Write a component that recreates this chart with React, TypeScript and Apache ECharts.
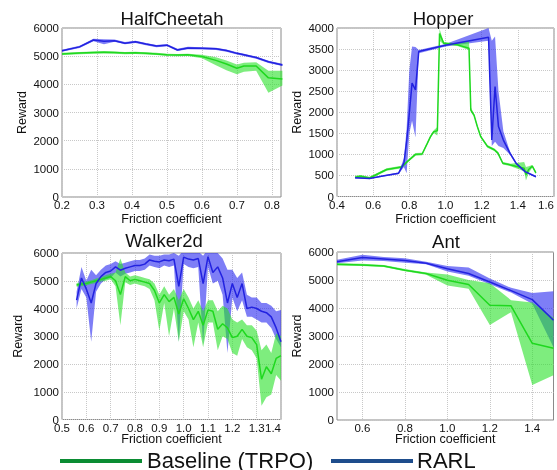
import React, { useEffect, useRef } from 'react';
import * as echarts from 'echarts';

// ---------- HalfCheetah ----------
const hcX = [0.2, 0.25, 0.29, 0.32, 0.35, 0.38, 0.41, 0.44, 0.47, 0.5, 0.53, 0.56, 0.6, 0.64, 0.67, 0.7, 0.72, 0.755, 0.79, 0.83];
const hcRarl = [5195, 5330, 5573, 5530, 5550, 5460, 5510, 5430, 5360, 5390, 5220, 5290, 5280, 5260, 5200, 5100, 5050, 4950, 4800, 4690];
const hcRarlLo = [5160, 5290, 5530, 5420, 5510, 5420, 5470, 5390, 5320, 5350, 5180, 5250, 5240, 5220, 5160, 5060, 5010, 4910, 4760, 4650];
const hcRarlHi = [5230, 5370, 5620, 5600, 5590, 5500, 5550, 5470, 5400, 5430, 5260, 5330, 5320, 5300, 5240, 5140, 5090, 4990, 4840, 4730];
const hcBase = [5080, 5110, 5130, 5140, 5130, 5110, 5120, 5100, 5080, 5050, 5040, 5050, 4990, 4850, 4720, 4570, 4650, 4650, 4230, 4190];
const hcBaseLo = [5040, 5070, 5090, 5100, 5090, 5070, 5080, 5060, 5040, 5010, 5000, 5010, 4930, 4680, 4500, 4360, 4450, 4480, 3700, 3960];
const hcBaseHi = [5120, 5150, 5170, 5180, 5170, 5150, 5160, 5140, 5120, 5090, 5080, 5090, 5050, 4960, 4850, 4700, 4770, 4780, 4480, 4480];
const hcTicks = [0.2, 0.3, 0.4, 0.5, 0.6, 0.7, 0.8];

// ---------- Hopper ----------
const hpRarlX = [0.5, 0.58, 0.66, 0.74, 0.77, 0.785, 0.8, 0.815, 0.834, 0.852, 1.0, 1.238, 1.256, 1.274, 1.293, 1.32, 1.357, 1.39, 1.44, 1.5];
const hpRarl = [446, 430, 490, 550, 790, 1300, 1980, 2690, 2530, 3440, 3590, 3780, 1340, 2610, 1660, 1340, 1025, 790, 590, 470];
const hpRarlLo = [430, 415, 475, 530, 700, 550, 1500, 1800, 1400, 3400, 3560, 3700, 1200, 1300, 1200, 1150, 990, 760, 570, 450];
const hpRarlHi = [460, 445, 505, 570, 900, 1600, 3000, 3560, 3550, 3480, 3620, 4000, 3700, 3800, 2500, 1550, 1060, 820, 610, 490];
const hpBaseX = [0.5, 0.53, 0.58, 0.675, 0.757, 0.794, 0.834, 0.871, 0.898, 0.917, 0.935, 0.955, 0.967, 0.99, 1.066, 1.13, 1.14, 1.158, 1.176, 1.195, 1.232, 1.27, 1.29, 1.317, 1.36, 1.435, 1.445, 1.46, 1.48, 1.5];
const hpBase = [460, 480, 440, 640, 700, 850, 1000, 1010, 1250, 1420, 1540, 1560, 3870, 3640, 3600, 3520, 2050, 1930, 1660, 1420, 1190, 1110, 1030, 790, 750, 670, 520, 640, 720, 560];
const hpBaseLo = [430, 450, 410, 610, 670, 820, 970, 980, 1220, 1390, 1510, 1450, 3700, 3610, 3570, 3480, 2000, 1900, 1630, 1390, 1160, 1080, 1000, 760, 720, 600, 380, 560, 690, 530];
const hpBaseHi = [490, 510, 470, 670, 730, 880, 1030, 1040, 1280, 1450, 1570, 1650, 3980, 3670, 3630, 3700, 2120, 1960, 1690, 1450, 1220, 1140, 1060, 820, 780, 820, 700, 720, 750, 590];
const hpTicks = [0.4, 0.6, 0.8, 1.0, 1.2, 1.4, 1.6];

// ---------- Walker2d ----------
const wkX = [0.56, 0.58, 0.6, 0.62, 0.64, 0.66, 0.68, 0.7, 0.72, 0.74, 0.76, 0.78, 0.8, 0.82, 0.84, 0.86, 0.88, 0.9, 0.92, 0.94, 0.96, 0.98, 1.0, 1.02, 1.04, 1.06, 1.08, 1.1, 1.12, 1.14, 1.16, 1.18, 1.2, 1.22, 1.24, 1.26, 1.28, 1.3, 1.32, 1.34, 1.36, 1.38, 1.4];
const wkRarl = [4300, 5100, 4700, 4200, 4900, 5150, 5300, 5350, 5500, 5380, 5450, 5500, 5550, 5550, 5600, 5750, 5700, 5680, 5750, 5720, 5780, 4800, 5850, 5780, 5750, 5800, 4900, 5870, 5300, 5500, 5100, 4200, 4900, 4400, 4900, 4000, 4050, 4000, 3900, 3850, 3700, 3300, 2800];
const wkRarlLo = [4000, 4700, 4400, 2800, 4600, 4900, 5050, 5100, 5300, 5150, 5250, 5300, 5350, 5350, 5400, 5550, 5500, 5450, 5550, 5500, 5550, 2800, 5600, 5500, 5450, 5500, 2700, 5500, 4900, 5000, 4500, 2400, 4400, 3900, 4300, 3700, 3700, 3600, 3500, 3500, 3300, 2900, 2600];
const wkRarlHi = [4600, 5500, 5000, 5400, 5200, 5400, 5550, 5600, 5700, 5600, 5650, 5700, 5750, 5750, 5800, 5950, 5900, 5900, 5950, 5950, 6000, 5900, 6100, 6050, 6000, 6050, 5900, 6150, 6000, 6000, 5800, 5400, 5400, 5100, 5300, 4500, 4400, 4400, 4200, 4200, 4100, 3900, 3950];
const wkBase = [4850, 4880, 4900, 4950, 5000, 5050, 5100, 5150, 5000, 4500, 5150, 5000, 5050, 5000, 4950, 4900, 4650, 4200, 4500, 4250, 4400, 3800, 4350, 4000, 3600, 3900, 3400, 3950, 3900, 3250, 3450, 3300, 2950, 3000, 3250, 3000, 2950, 2700, 1450, 1900, 1650, 2200, 2300];
const wkBaseLo = [4780, 4800, 4830, 4880, 4920, 4970, 5000, 5050, 4800, 3400, 4950, 4850, 4900, 4850, 4800, 4700, 4300, 3200, 4200, 3000, 4000, 2800, 3900, 3600, 2600, 3500, 2600, 3500, 3500, 2500, 3000, 2900, 2400, 2300, 2900, 2600, 2500, 2200, 500, 800, 900, 1600, 1400];
const wkBaseHi = [4920, 4950, 4970, 5020, 5080, 5130, 5200, 5250, 5300, 5800, 5300, 5150, 5200, 5150, 5100, 5050, 4900, 4500, 4800, 4500, 4700, 4300, 4700, 4400, 4000, 4300, 3900, 4300, 4300, 3900, 4100, 4000, 3600, 3500, 3600, 3400, 3400, 3200, 2500, 2700, 2400, 3100, 3000];
const wkTicks = [0.5, 0.6, 0.7, 0.8, 0.9, 1.0, 1.1, 1.2, 1.3, 1.4];

// ---------- Ant ----------
const antX = [0.48, 0.6, 0.7, 0.8, 0.9, 1.0, 1.1, 1.2, 1.3, 1.4, 1.5];
const antRarl = [5650, 5800, 5750, 5700, 5600, 5400, 5230, 4930, 4620, 4300, 3560];
const antRarlLo = [5600, 5700, 5680, 5620, 5560, 5300, 5150, 4850, 4550, 4150, 2600];
const antRarlHi = [5720, 5900, 5820, 5780, 5650, 5500, 5450, 5050, 4720, 4540, 4600];
const antBase = [5560, 5540, 5500, 5350, 5230, 4990, 4840, 4100, 4080, 2740, 2560];
const antBaseLo = [5520, 5500, 5460, 5310, 5190, 4800, 4690, 3390, 3850, 1250, 1600];
const antBaseHi = [5600, 5580, 5540, 5390, 5270, 5200, 5000, 4880, 4280, 4200, 3650];
const antTicks = [0.6, 0.8, 1.0, 1.2, 1.4];

const titles = ['HalfCheetah', 'Hopper', 'Walker2d', 'Ant'];
const legendNames = ['Baseline (TRPO)', 'RARL'];

const FONT = 'Liberation Sans, Arial, Helvetica, sans-serif';
const GREEN_LINE = '#1fd81f';
const BLUE_LINE = '#2222e0';
const GREEN_BAND = 'rgba(40,225,40,0.6)';
const BLUE_BAND = 'rgba(40,40,240,0.6)';

const pairs = (xs: number[], ys: number[]) => xs.map((x, i) => [x, ys[i]]);

// clip a polygon (pixel coords) to the half-plane y >= top
function clipTop(pts: number[][], top: number) {
  const out: number[][] = [];
  for (let i = 0; i < pts.length; i++) {
    const a = pts[i];
    const b = pts[(i + 1) % pts.length];
    const aIn = a[1] >= top;
    const bIn = b[1] >= top;
    if (aIn) out.push(a);
    if (aIn !== bIn) {
      const t = (top - a[1]) / (b[1] - a[1]);
      out.push([a[0] + t * (b[0] - a[0]), top]);
    }
  }
  return out;
}

function band(idx: number, xs: number[], lo: number[], hi: number[], color: string) {
  const rows = xs.map((x, i) => [x, lo[i], hi[i]]);
  return {
    type: 'custom', xAxisIndex: idx, yAxisIndex: idx, data: rows, silent: true, z: 1,
    encode: { x: 0, y: [1, 2] },
    renderItem: (params: any, api: any) => {
      if (params.dataIndex !== 0) return null;
      const top = rows.map((r) => api.coord([r[0], r[2]]));
      const bot = rows.map((r) => api.coord([r[0], r[1]])).reverse();
      const pts = clipTop(top.concat(bot), params.coordSys.y);
      return { type: 'polygon', shape: { points: pts }, style: { fill: color }, silent: true };
    },
  };
}

function line(idx: number, xs: number[], ys: number[], color: string) {
  return {
    type: 'line', xAxisIndex: idx, yAxisIndex: idx, data: pairs(xs, ys),
    symbol: 'none', lineStyle: { width: 1.5, color }, silent: true, z: 3,
  };
}

const labelStyle = { color: '#111', fontSize: 11.5, fontFamily: FONT };
const nameStyle = { color: '#111', fontSize: 12.5, fontFamily: FONT };
const splitLine = { show: true, lineStyle: { color: '#c8c8c8', type: 'dotted', width: 1 } };

function xAxis(idx: number, min: number, max: number, ticks: number[], nameGap: number, alignMax?: string) {
  return {
    type: 'value', gridIndex: idx, min, max,
    name: 'Friction coefficient', nameLocation: 'middle', nameGap, nameTextStyle: nameStyle,
    nameMoveOverlap: false,
    axisLine: { show: false }, axisTick: { show: false, customValues: ticks },
    axisLabel: {
      ...labelStyle, margin: 2, customValues: ticks, hideOverlap: false,
      formatter: (v: number) => v.toFixed(1),
      ...(alignMax ? { alignMaxLabel: alignMax } : {}),
    },
    splitLine,
  };
}

function yAxis(idx: number, max: number, interval: number, nameGap: number) {
  return {
    type: 'value', gridIndex: idx, min: 0, max, interval,
    name: 'Reward', nameLocation: 'middle', nameGap, nameTextStyle: nameStyle,
    nameMoveOverlap: false,
    axisLine: { show: false }, axisTick: { show: false },
    axisLabel: { ...labelStyle, margin: 3, formatter: (v: number) => String(v) },
    splitLine,
  };
}

export default function App() {
  const ref = useRef<HTMLDivElement>(null);
  useEffect(() => {
    if (!ref.current) return;
    const chart = echarts.init(ref.current, null, { renderer: 'svg' });
    const gridBase = { show: true, borderColor: '#8a8a8a', borderWidth: 1, backgroundColor: '#fff' };
    const titleStyle = { fontSize: 18.5, fontFamily: FONT, fill: '#111', textAlign: 'center', textVerticalAlign: 'middle' };
    const legendText = { fontSize: 22, fontFamily: FONT, fill: '#111', textVerticalAlign: 'middle' };
    chart.setOption({
      animation: false,
      textStyle: { fontFamily: FONT },
      grid: [
        { ...gridBase, left: 62, top: 28, width: 219, height: 169 },
        { ...gridBase, left: 337, top: 28, width: 218, height: 168.5 },
        { ...gridBase, left: 62, top: 253, width: 219, height: 166.5 },
        { ...gridBase, left: 337, top: 252, width: 216.5, height: 168 },
      ],
      xAxis: [
        xAxis(0, 0.2, 0.826, hcTicks, 15),
        xAxis(1, 0.4, 1.6, hpTicks, 15.5, 'right'),
        xAxis(2, 0.5, 1.4, wkTicks, 12.5, 'right'),
        xAxis(3, 0.48, 1.5, antTicks, 12),
      ],
      yAxis: [
        yAxis(0, 6000, 1000, 34),
        yAxis(1, 4000, 500, 34),
        yAxis(2, 6000, 1000, 38),
        yAxis(3, 6000, 1000, 34),
      ],
      series: [
        band(0, hcX, hcRarlLo, hcRarlHi, BLUE_BAND),
        band(0, hcX, hcBaseLo, hcBaseHi, GREEN_BAND),
        line(0, hcX, hcBase, GREEN_LINE),
        line(0, hcX, hcRarl, BLUE_LINE),

        band(1, hpRarlX, hpRarlLo, hpRarlHi, BLUE_BAND),
        band(1, hpBaseX, hpBaseLo, hpBaseHi, GREEN_BAND),
        line(1, hpBaseX, hpBase, GREEN_LINE),
        line(1, hpRarlX, hpRarl, BLUE_LINE),

        band(2, wkX, wkRarlLo, wkRarlHi, BLUE_BAND),
        band(2, wkX, wkBaseLo, wkBaseHi, GREEN_BAND),
        line(2, wkX, wkBase, GREEN_LINE),
        line(2, wkX, wkRarl, BLUE_LINE),

        band(3, antX, antRarlLo, antRarlHi, BLUE_BAND),
        band(3, antX, antBaseLo, antBaseHi, GREEN_BAND),
        line(3, antX, antBase, GREEN_LINE),
        line(3, antX, antRarl, BLUE_LINE),
      ],
      graphic: [
        { type: 'text', x: 172, y: 18, style: { ...titleStyle, text: titles[0] } },
        { type: 'text', x: 443, y: 18, style: { ...titleStyle, text: titles[1] } },
        { type: 'text', x: 164, y: 240, style: { ...titleStyle, text: titles[2] } },
        { type: 'text', x: 446, y: 241, style: { ...titleStyle, text: titles[3] } },
        { type: 'line', shape: { x1: 60, y1: 461, x2: 142, y2: 461 }, style: { stroke: '#0b8c33', lineWidth: 4 } },
        { type: 'text', x: 147, y: 460, style: { ...legendText, text: legendNames[0] } },
        { type: 'line', shape: { x1: 331, y1: 461, x2: 413, y2: 461 }, style: { stroke: '#1e4d8c', lineWidth: 4 } },
        { type: 'text', x: 417, y: 460, style: { ...legendText, text: legendNames[1] } },
      ],
    });
    return () => chart.dispose();
  }, []);
  return <div ref={ref} style={{ position: 'fixed', left: 0, top: 0, width: 557, height: 470 }} />;
}
